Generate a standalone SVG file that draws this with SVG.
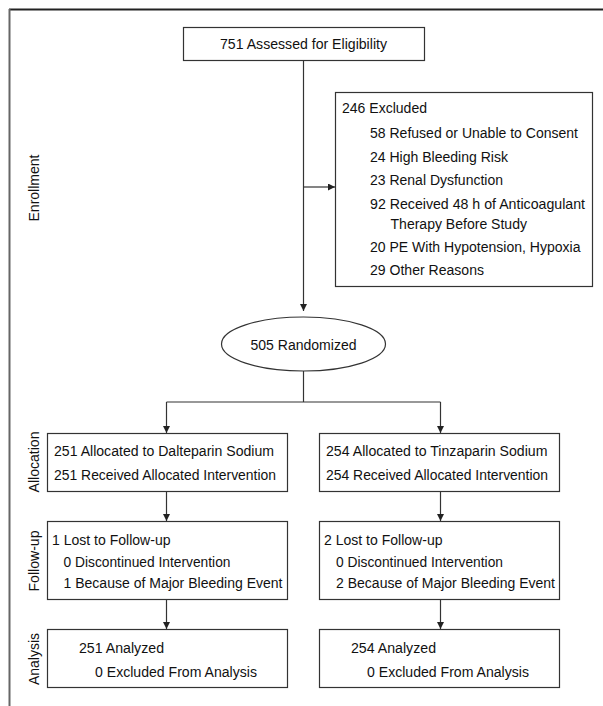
<svg xmlns="http://www.w3.org/2000/svg" width="603" height="706" viewBox="0 0 603 706">
<defs>
<style>
.box{fill:#fff;stroke:#333;stroke-width:1.2}
.ln{fill:none;stroke:#333;stroke-width:1.2}
.t{font-family:"Liberation Sans Narrow","Liberation Sans",Arial,sans-serif;font-size:15.5px;fill:#111}
.m{text-anchor:middle}
</style>
<marker id="ah" viewBox="0 0 10 10" refX="10" refY="5" markerWidth="8" markerHeight="7" markerUnits="userSpaceOnUse" orient="auto">
<path d="M0,0 L10,5 L0,10 z" fill="#222"/>
</marker>
</defs>
<rect width="603" height="706" fill="#fff"/>
<g id="frame">
<line x1="9" y1="9.5" x2="603" y2="9.5" stroke="#222" stroke-width="2"/>
<line x1="9.5" y1="9" x2="9.5" y2="706" stroke="#666" stroke-width="2"/>
</g>
<g id="stage-labels" class="t m">
<text transform="translate(38.5,188) rotate(-90)" textLength="67" lengthAdjust="spacingAndGlyphs">Enrollment</text>
<text transform="translate(38.5,462) rotate(-90)" textLength="61" lengthAdjust="spacingAndGlyphs">Allocation</text>
<text transform="translate(38.5,561) rotate(-90)" textLength="61" lengthAdjust="spacingAndGlyphs">Follow-up</text>
<text transform="translate(38.5,659) rotate(-90)" textLength="52" lengthAdjust="spacingAndGlyphs">Analysis</text>
</g>
<g id="connectors">
<line class="ln" x1="303.5" y1="60" x2="303.5" y2="311" marker-end="url(#ah)"/>
<line class="ln" x1="303.5" y1="187" x2="335" y2="187" marker-end="url(#ah)"/>
<line class="ln" x1="303.5" y1="371" x2="303.5" y2="402"/>
<line class="ln" x1="166.5" y1="402" x2="440.5" y2="402"/>
<line class="ln" x1="166.5" y1="402" x2="166.5" y2="433" marker-end="url(#ah)"/>
<line class="ln" x1="440.5" y1="402" x2="440.5" y2="433" marker-end="url(#ah)"/>
<line class="ln" x1="166.5" y1="491" x2="166.5" y2="521" marker-end="url(#ah)"/>
<line class="ln" x1="440.5" y1="491" x2="440.5" y2="521" marker-end="url(#ah)"/>
<line class="ln" x1="166.5" y1="599" x2="166.5" y2="629" marker-end="url(#ah)"/>
<line class="ln" x1="440.5" y1="599" x2="440.5" y2="629" marker-end="url(#ah)"/>
</g>
<g id="assessed">
<rect class="box" x="183.5" y="27.5" width="241" height="33"/>
<text class="t m" x="303.5" y="49" textLength="167" lengthAdjust="spacingAndGlyphs">751 Assessed for Eligibility</text>
</g>
<g id="excluded">
<rect class="box" x="335.5" y="92.5" width="257" height="194"/>
<text class="t" x="342" y="113" textLength="85" lengthAdjust="spacingAndGlyphs">246 Excluded</text>
<text class="t" x="370" y="138" textLength="208" lengthAdjust="spacingAndGlyphs">58 Refused or Unable to Consent</text>
<text class="t" x="370" y="162" textLength="138" lengthAdjust="spacingAndGlyphs">24 High Bleeding Risk</text>
<text class="t" x="370" y="185" textLength="133" lengthAdjust="spacingAndGlyphs">23 Renal Dysfunction</text>
<text class="t" x="370" y="209" textLength="215" lengthAdjust="spacingAndGlyphs" style="font-size:15px">92 Received 48 h of Anticoagulant</text>
<text class="t" x="390.5" y="229" textLength="136.5" lengthAdjust="spacingAndGlyphs">Therapy Before Study</text>
<text class="t" x="370" y="252" textLength="210.5" lengthAdjust="spacingAndGlyphs">20 PE With Hypotension, Hypoxia</text>
<text class="t" x="370" y="275" textLength="114" lengthAdjust="spacingAndGlyphs">29 Other Reasons</text>
</g>
<g id="randomized">
<ellipse class="box" cx="303.5" cy="344" rx="82" ry="27"/>
<text class="t m" x="303.5" y="350" textLength="106" lengthAdjust="spacingAndGlyphs">505 Randomized</text>
</g>
<g id="alloc-dalteparin">
<rect class="box" x="47.5" y="433.5" width="240" height="58"/>
<text class="t" x="54" y="456" textLength="220" lengthAdjust="spacingAndGlyphs">251 Allocated to Dalteparin Sodium</text>
<text class="t" x="54" y="480" textLength="222" lengthAdjust="spacingAndGlyphs">251 Received Allocated Intervention</text>
</g>
<g id="alloc-tinzaparin">
<rect class="box" x="319.5" y="433.5" width="240" height="58"/>
<text class="t" x="326" y="456" textLength="221.5" lengthAdjust="spacingAndGlyphs">254 Allocated to Tinzaparin Sodium</text>
<text class="t" x="326" y="480" textLength="222" lengthAdjust="spacingAndGlyphs">254 Received Allocated Intervention</text>
</g>
<g id="followup-dalteparin">
<rect class="box" x="47.5" y="521.5" width="240" height="78"/>
<text class="t" x="52" y="545" textLength="118.5" lengthAdjust="spacingAndGlyphs">1 Lost to Follow-up</text>
<text class="t" x="63.5" y="567" textLength="167" lengthAdjust="spacingAndGlyphs">0 Discontinued Intervention</text>
<text class="t" x="63.5" y="588" textLength="219" lengthAdjust="spacingAndGlyphs">1 Because of Major Bleeding Event</text>
</g>
<g id="followup-tinzaparin">
<rect class="box" x="319.5" y="521.5" width="240" height="78"/>
<text class="t" x="324" y="545" textLength="118.5" lengthAdjust="spacingAndGlyphs">2 Lost to Follow-up</text>
<text class="t" x="336" y="567" textLength="167" lengthAdjust="spacingAndGlyphs">0 Discontinued Intervention</text>
<text class="t" x="336" y="588" textLength="219" lengthAdjust="spacingAndGlyphs">2 Because of Major Bleeding Event</text>
</g>
<g id="analysis-dalteparin">
<rect class="box" x="47.5" y="629.5" width="240" height="58"/>
<text class="t" x="79" y="653" textLength="85" lengthAdjust="spacingAndGlyphs">251 Analyzed</text>
<text class="t" x="95" y="677" textLength="162" lengthAdjust="spacingAndGlyphs">0 Excluded From Analysis</text>
</g>
<g id="analysis-tinzaparin">
<rect class="box" x="319.5" y="629.5" width="240" height="58"/>
<text class="t" x="351" y="653" textLength="85" lengthAdjust="spacingAndGlyphs">254 Analyzed</text>
<text class="t" x="367" y="677" textLength="162" lengthAdjust="spacingAndGlyphs">0 Excluded From Analysis</text>
</g>
</svg>
